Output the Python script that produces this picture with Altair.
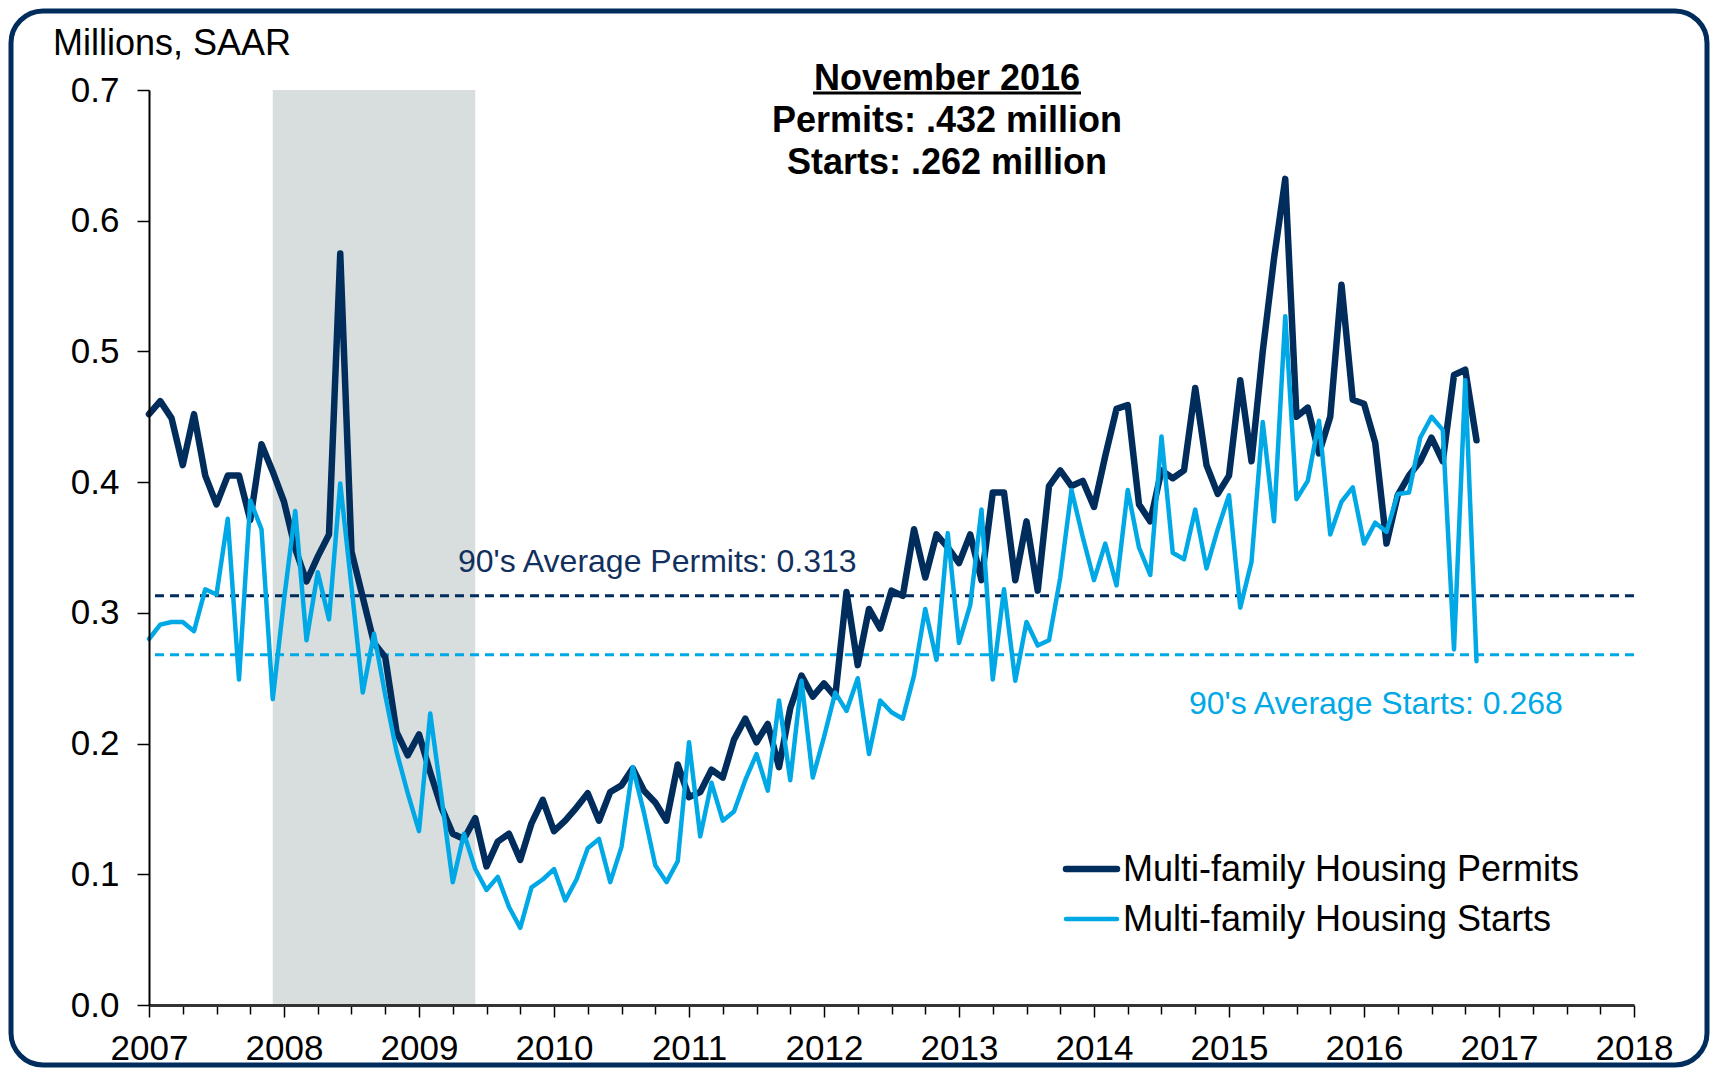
import altair as alt
import pandas as pd

# ---------------- data ----------------
first_month = "2007-01"
permits = [
    0.452, 0.462, 0.449, 0.413, 0.452, 0.405, 0.383, 0.405, 0.405, 0.371, 0.429, 0.408,
    0.385, 0.349, 0.324, 0.343, 0.360, 0.575, 0.347, 0.312, 0.277, 0.266, 0.209, 0.191,
    0.207, 0.178, 0.151, 0.131, 0.127, 0.143, 0.106, 0.125, 0.131, 0.111, 0.139, 0.157,
    0.133, 0.141, 0.151, 0.162, 0.141, 0.163, 0.168, 0.181, 0.164, 0.155, 0.141, 0.184,
    0.159, 0.163, 0.180, 0.174, 0.203, 0.219, 0.201, 0.215, 0.182, 0.227, 0.252, 0.236,
    0.246, 0.236, 0.316, 0.260, 0.303, 0.288, 0.317, 0.313, 0.364, 0.327, 0.360, 0.350,
    0.338, 0.360, 0.325, 0.392, 0.392, 0.325, 0.370, 0.317, 0.397, 0.409, 0.397, 0.401,
    0.381, 0.420, 0.456, 0.459, 0.383, 0.370, 0.409, 0.403, 0.409, 0.472, 0.413, 0.391,
    0.405, 0.478, 0.416, 0.500, 0.571, 0.632, 0.450, 0.457, 0.422, 0.450, 0.551, 0.463,
    0.460, 0.430, 0.353, 0.390, 0.405, 0.416, 0.434, 0.416, 0.482, 0.486, 0.432,
]
starts = [
    0.280, 0.291, 0.293, 0.293, 0.286, 0.318, 0.314, 0.372, 0.249, 0.386, 0.364, 0.234,
    0.310, 0.378, 0.279, 0.331, 0.295, 0.399, 0.320, 0.239, 0.284, 0.237, 0.194, 0.162,
    0.133, 0.223, 0.159, 0.094, 0.131, 0.104, 0.088, 0.098, 0.075, 0.059, 0.090, 0.096,
    0.104, 0.080, 0.096, 0.120, 0.127, 0.094, 0.121, 0.182, 0.147, 0.107, 0.094, 0.110,
    0.201, 0.129, 0.170, 0.141, 0.148, 0.172, 0.192, 0.164, 0.233, 0.172, 0.248, 0.174,
    0.205, 0.239, 0.225, 0.250, 0.192, 0.233, 0.224, 0.219, 0.252, 0.303, 0.264, 0.361,
    0.277, 0.306, 0.379, 0.249, 0.318, 0.248, 0.293, 0.275, 0.279, 0.327, 0.394, 0.358,
    0.325, 0.353, 0.321, 0.394, 0.350, 0.329, 0.435, 0.346, 0.341, 0.379, 0.334, 0.364,
    0.390, 0.304, 0.339, 0.446, 0.370, 0.527, 0.387, 0.401, 0.447, 0.360, 0.385, 0.396,
    0.353, 0.369, 0.362, 0.391, 0.392, 0.434, 0.450, 0.440, 0.272, 0.478, 0.263,
]
series_names = ["Multi-family Housing Permits", "Multi-family Housing Starts"]
series_colors = ["#002D5C", "#00A9E6"]
avg_values = [0.313, 0.268]
avg_labels = ["90's Average Permits: 0.313", "90's Average Starts: 0.268"]
recession_months = ["2007-12", "2009-06"]
year_ticks = list(range(2007, 2019))
y_ticks = [0.0, 0.1, 0.2, 0.3, 0.4, 0.5, 0.6, 0.7]
title_lines = ["November 2016", "Permits: .432 million", "Starts: .262 million"]
y_unit = "Millions, SAAR"

FONT = "Liberation Sans, Arial, Helvetica, sans-serif"
BORDER = "#002D5C"
SHADE = "#D8DEDE"


def frac_year(ts):
    return ts.year + (ts.month - 1) / 12


months = pd.date_range(first_month, periods=len(permits), freq="MS")
df = pd.DataFrame({"t": [frac_year(m) for m in months], "permits": permits, "starts": starts})
rec = pd.DataFrame({
    "start": [frac_year(pd.Timestamp(recession_months[0]))],
    "end": [frac_year(pd.Timestamp(recession_months[1]))],
    "top": [y_ticks[-1]],
    "bottom": [y_ticks[0]],
})
avg_df = pd.DataFrame({"avg": avg_values, "series": series_names})
quarter_ticks = [y + q / 4 for y in year_ticks[:-1] for q in range(4)] + [year_ticks[-1]]

xscale = alt.Scale(domain=[year_ticks[0], year_ticks[-1]], nice=False, zero=False)
yscale = alt.Scale(domain=[y_ticks[0], y_ticks[-1]], nice=False)
cscale = alt.Scale(domain=series_names, range=series_colors)

x_axis = alt.Axis(
    values=quarter_ticks,
    labelExpr="datum.value % 1 == 0 ? format(datum.value, 'd') : ''",
    labelFlush=False, labelOverlap=False, labelBound=False,
    tickSize={"condition": {"test": "datum.value % 1 == 0", "value": 12}, "value": 9},
    tickColor="black", tickWidth=1.5,
    domainColor="#333333", domainWidth=3,
    labelFont=FONT, labelFontSize=35, labelColor="black", labelPadding=14,
    grid=False, title=None, zindex=1,
)
y_axis = alt.Axis(
    values=y_ticks, format=".1f",
    tickSize=12, tickColor="black", tickWidth=1.5,
    domainColor="black", domainWidth=2,
    labelFont=FONT, labelFontSize=35, labelColor="black", labelPadding=18,
    grid=False, title=None, zindex=1,
)

one = pd.DataFrame({"k": [0]})

shade = alt.Chart(rec).mark_rect(color=SHADE).encode(
    x=alt.X("start:Q", scale=xscale, axis=x_axis), x2="end:Q",
    y=alt.Y("top:Q", scale=yscale, axis=y_axis), y2="bottom:Q",
)

avg_rules = alt.Chart(avg_df).mark_rule(strokeDash=[9, 6], strokeWidth=3).encode(
    y=alt.Y("avg:Q", scale=yscale, axis=y_axis),
    color=alt.Color("series:N", scale=cscale, legend=None),
)

perm_line = alt.Chart(df).mark_line(
    color=series_colors[0], strokeWidth=6.5, strokeJoin="round", strokeCap="round"
).encode(
    x=alt.X("t:Q", scale=xscale, axis=x_axis),
    y=alt.Y("permits:Q", scale=yscale, axis=y_axis),
)
start_line = alt.Chart(df).mark_line(
    color=series_colors[1], strokeWidth=4.5, strokeJoin="round", strokeCap="round"
).encode(
    x=alt.X("t:Q", scale=xscale, axis=x_axis),
    y=alt.Y("starts:Q", scale=yscale, axis=y_axis),
)

avg_text_perm = alt.Chart(one).mark_text(
    text=avg_labels[0], font=FONT, fontSize=32, color="#12305E", align="left", baseline="alphabetic"
).encode(x=alt.value(309), y=alt.value(482))
avg_text_start = alt.Chart(one).mark_text(
    text=avg_labels[1], font=FONT, fontSize=32, color=series_colors[1], align="left", baseline="alphabetic"
).encode(x=alt.value(1040), y=alt.value(624))

unit_text = alt.Chart(one).mark_text(
    text=y_unit, font=FONT, fontSize=36, color="black", align="left", baseline="alphabetic"
).encode(x=alt.value(-96), y=alt.value(-35))

title_layers = []
for i, line in enumerate(title_lines):
    title_layers.append(
        alt.Chart(one).mark_text(
            text=line, font=FONT, fontSize=36, fontWeight="bold", color="black",
            align="center", baseline="alphabetic",
        ).encode(x=alt.value(798), y=alt.value(0 + 42 * i))
    )
underline = alt.Chart(one).mark_rule(color="black", strokeWidth=3).encode(
    x=alt.value(664), x2=alt.value(932), y=alt.value(3)
)

legend_layers = []
for i, (name, col) in enumerate(zip(series_names, series_colors)):
    ldf = pd.DataFrame({"label": [name]})
    legend_layers.append(
        alt.Chart(ldf).mark_rule(color=col, strokeWidth=6.5 if i == 0 else 4.5, strokeCap="round").encode(
            x=alt.value(917), x2=alt.value(968), y=alt.value(779 + 50 * i)
        )
    )
    legend_layers.append(
        alt.Chart(ldf).mark_text(
            font=FONT, fontSize=36, color="black", align="left", baseline="middle"
        ).encode(x=alt.value(974), y=alt.value(780 + 50 * i), text="label:N")
    )

border = alt.Chart(one).mark_rect(
    fill="transparent", stroke=BORDER, strokeWidth=5, cornerRadius=32
).encode(x=alt.value(-138), x2=alt.value(1558), y=alt.value(-79), y2=alt.value(975))

chart = alt.layer(
    shade, avg_rules, perm_line, start_line,
    avg_text_perm, avg_text_start, unit_text, *title_layers, underline,
    *legend_layers, border,
).properties(
    width=1485, height=915,
    autosize=alt.AutoSizeParams(type="none"),
    padding={"left": 141, "top": 82, "right": 78, "bottom": 63},
    background="white",
).configure_view(stroke=None)

chart.save("out.html", embed_options={"renderer": "svg", "actions": False})
